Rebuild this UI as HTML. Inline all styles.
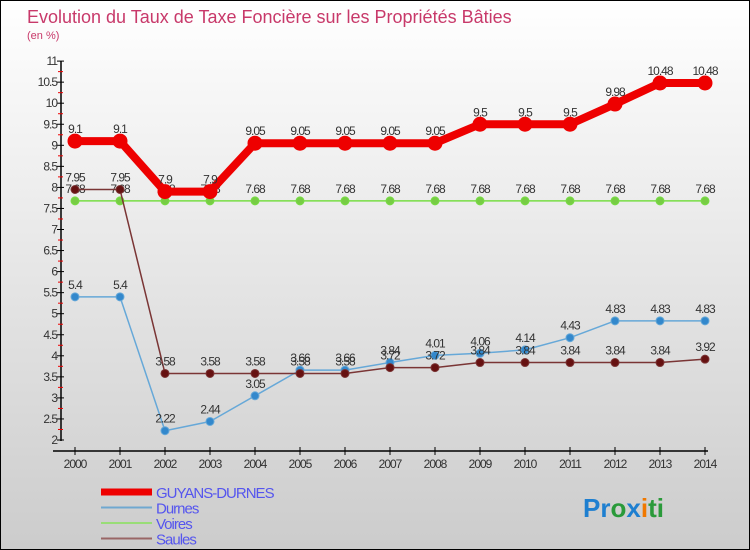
<!DOCTYPE html>
<html><head><meta charset="utf-8"><style>
body{margin:0}
#c{width:748px;height:548px;border:1px solid #000;background:linear-gradient(#fff,#ccc);position:relative;font-family:"Liberation Sans",sans-serif;overflow:hidden}
</style></head><body>
<div id="c">
<svg id="s" width="748" height="548" style="position:absolute;left:0;top:0">
<text x="26" y="22" font-size="18" fill="#c8396a">Evolution du Taux de Taxe Foncière sur les Propriétés Bâties</text>
<text x="26" y="38" font-size="11" fill="#c8396a">(en %)</text>
</svg>
</div>
<script>
const years=[2000,2001,2002,2003,2004,2005,2006,2007,2008,2009,2010,2011,2012,2013,2014];
const guyans=[9.1,9.1,7.9,7.9,9.05,9.05,9.05,9.05,9.05,9.5,9.5,9.5,9.98,10.48,10.48];
const durnes=[5.4,5.4,2.22,2.44,3.05,3.66,3.66,3.84,4.01,4.06,4.14,4.43,4.83,4.83,4.83];
const voires=[7.68,7.68,7.68,7.68,7.68,7.68,7.68,7.68,7.68,7.68,7.68,7.68,7.68,7.68,7.68];
const saules=[7.95,7.95,3.58,3.58,3.58,3.58,3.58,3.72,3.72,3.84,3.84,3.84,3.84,3.84,3.92];
const yTicks=[2,2.5,3,3.5,4,4.5,5,5.5,6,6.5,7,7.5,8,8.5,9,9.5,10,10.5,11];
const NS='http://www.w3.org/2000/svg';
const s=document.getElementById('s');
const X=i=>74+i*45, Y=v=>439-(v-2)*42.1;
function el(t,a,p){const e=document.createElementNS(NS,t);for(const k in a)e.setAttribute(k,a[k]);(p||s).appendChild(e);return e;}
let ya=el('line',{x1:60,y1:60,x2:60,y2:440,stroke:'#000','stroke-width':1.5});


yTicks.forEach(v=>{
  el('line',{x1:56,x2:63,y1:Y(v),y2:Y(v),stroke:'#000'});
  if(v<11){el('line',{x1:57,x2:62,y1:Y(v+0.25),y2:Y(v+0.25),stroke:'#e00'});}
  const t=el('text',{x:56,y:Y(v)+4,'font-size':12,'text-anchor':'end',fill:'#333','letter-spacing':-1});
  t.textContent=v;
  
  
});
let xa=el('line',{x1:52,y1:450,x2:707,y2:450,stroke:'#000','stroke-width':1.5});


years.forEach((y,i)=>{
  el('line',{x1:X(i),x2:X(i),y1:446,y2:454,stroke:'#000'});
  const t=el('text',{x:X(i),y:467,'font-size':12,'text-anchor':'middle',fill:'#333','letter-spacing':-1});
  t.textContent=y;
  
  
});
function series(name,data,color,w,r,dot){
  const g=el('g',{});
  
  
  el('polyline',{points:data.map((v,i)=>X(i)+','+Y(v)).join(' '),fill:'none',stroke:color,'stroke-width':w,'stroke-linejoin':'round'},g);
  data.forEach((v,i)=>{
    const c=el('circle',{cx:X(i),cy:Y(v),r:r,fill:dot,stroke:color},g);
    
    
    const t=el('text',{x:X(i),y:Y(v)-8,'font-size':12,'text-anchor':'middle',fill:'#333','letter-spacing':-1},g);
    t.textContent=v;
    
    
  });
}
series('voires',voires,'#77dd44',1.5,4,'#77cc44');
series('durnes',durnes,'#66a8d8',1.5,4,'#3388cc');
series('saules',saules,'#7a3535',1.5,4,'#661111');
series('guyans',guyans,'#ee0000',8,7,'#ee0000');
const leg=[['GUYANS-DURNES','#ee0000',7],['Durnes','#6fa8d0',2],['Voires','#99dd77',2],['Saules','#996666',2]];
leg.forEach((l,i)=>{
  const y=491+i*15.5;
  const g=el('g',{});
  
  
  el('line',{x1:100,x2:151,y1:y,y2:y,stroke:l[1],'stroke-width':l[2]},g);
  const t=el('text',{x:155,y:y+6,'font-size':15,fill:'#5555ee','letter-spacing':-1},g);
  t.textContent=l[0];
});
const p=el('text',{x:582,y:516,'font-size':26,'font-weight':'bold','font-family':'Liberation Sans'});


[['Pr','#1e7fd0'],['o','#2a9a3a'],['x','#1e7fd0'],['i','#f07800'],['ti','#2a9a3a']].forEach(a=>{const t=el('tspan',{fill:a[1]},p);t.textContent=a[0];});
</script>
</body></html>
